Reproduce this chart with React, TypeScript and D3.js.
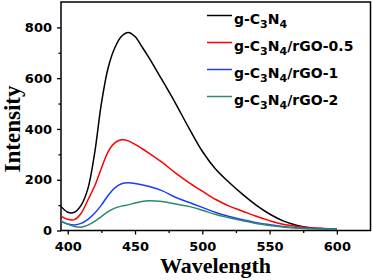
import React, { useRef, useEffect } from "react";
import * as d3 from "d3";

// wavelength (nm) and PL intensity of each sample
const wavelengths = [395, 400, 405, 410, 415, 420, 425, 430, 435, 440, 445, 450, 455, 460, 470, 480, 490, 500, 510, 520, 530, 540, 550, 560, 570, 580, 590, 600];
const gC3N4 = [95, 72, 72, 100, 165, 305, 500, 640, 720, 765, 780, 764, 725, 684, 594, 502, 404, 312, 241, 189, 142, 100, 65, 38, 21, 11, 7, 5];
const rGO05 = [57, 44, 43, 68, 120, 175, 245, 310, 345, 357, 353, 339, 323, 306, 269, 227, 189, 155, 122, 96, 76, 56, 39, 25, 17, 11, 8, 6];
const rGO1 = [35, 26, 22, 28, 44, 68, 100, 138, 168, 184, 188, 185, 180, 174, 157, 131, 111, 91, 71, 55, 42, 31, 23, 16, 11, 8, 6, 6];
const rGO2 = [38, 25, 16, 13, 21, 36, 55, 74, 88, 96, 101, 108, 114, 117, 114, 104, 95, 80, 63, 50, 38, 28, 20, 14, 10, 7, 6, 5];

const xTicks = [400, 450, 500, 550, 600];
const xMinor = [425, 475, 525, 575];
const yTicks = [0, 200, 400, 600, 800];
const yMinor = [100, 300, 500, 700];

const series = [
  { name: "g-C|3|N|4|", values: gC3N4, color: "#000000" },
  { name: "g-C|3|N|4|/rGO-0.5", values: rGO05, color: "#ff0000" },
  { name: "g-C|3|N|4|/rGO-1", values: rGO1, color: "#1f3dff" },
  { name: "g-C|3|N|4|/rGO-2", values: rGO2, color: "#2b8a6c" },
];

const App = () => {
  const svgRef = useRef<SVGSVGElement>(null);

  useEffect(() => {
    if (!svgRef.current) return;
    const svg = d3.select(svgRef.current);
    svg.selectAll("*").remove();

    const left = 61, right = 370.5, top = 2, bottom = 230.5;
    const x = d3.scaleLinear().domain([395, 625]).range([left, right]);
    const y = d3.scaleLinear().domain([0, 900]).range([bottom, top]);

    const tickFont = "'DejaVu Sans', sans-serif";

    // x axis
    const gx = svg.append("g").attr("transform", `translate(0,${bottom})`)
      .call(d3.axisBottom(x).tickValues(xTicks).tickSize(4).tickPadding(7).tickFormat(d3.format("d")));
    svg.append("g").attr("transform", `translate(0,${bottom})`)
      .call(d3.axisBottom(x).tickValues(xMinor).tickSize(2.5).tickFormat(() => ""));

    // y axis
    const gy = svg.append("g").attr("transform", `translate(${left},0)`)
      .call(d3.axisLeft(y).tickValues(yTicks).tickSize(4).tickPadding(5).tickFormat(d3.format("d")));
    svg.append("g").attr("transform", `translate(${left},0)`)
      .call(d3.axisLeft(y).tickValues(yMinor).tickSize(2.5).tickFormat(() => ""));

    svg.selectAll(".domain").remove();
    svg.selectAll(".tick line").attr("stroke", "#000").attr("stroke-width", 1.3);
    [gx, gy].forEach((g) =>
      g.selectAll("text")
        .attr("fill", "#000")
        .style("font-family", tickFont)
        .style("font-weight", "bold")
        .style("font-size", "13px")
    );

    // frame
    svg.append("rect")
      .attr("x", left).attr("y", top)
      .attr("width", right - left).attr("height", bottom - top)
      .attr("fill", "none").attr("stroke", "#000").attr("stroke-width", 1.5);

    // curves
    const line = d3.line<number>()
      .x((_, i) => x(wavelengths[i]))
      .y((d) => y(d))
      .curve(d3.curveCatmullRom.alpha(0.5));

    series.forEach((s) => {
      svg.append("path")
        .datum(s.values)
        .attr("d", line)
        .attr("fill", "none")
        .attr("stroke", s.color)
        .attr("stroke-width", 1.5);
    });

    // legend
    const legend = svg.append("g");
    series.forEach((s, i) => {
      const ly = 15.5 + i * 27;
      legend.append("line")
        .attr("x1", 207).attr("x2", 232)
        .attr("y1", ly).attr("y2", ly)
        .attr("stroke", s.color).attr("stroke-width", 1.5);
      const t = legend.append("text")
        .attr("x", 234).attr("y", ly + 8.5)
        .style("font-family", tickFont)
        .style("font-weight", "bold")
        .style("font-size", "14px");
      // parts split by "|": odd parts are subscripts
      s.name.split("|").forEach((part, j) => {
        if (!part) return;
        const sub = j % 2 === 1;
        t.append("tspan")
          .attr("dy", sub ? 4 : (j > 0 ? -4 : 0))
          .style("font-size", sub ? "11px" : "14px")
          .text(part);
      });
    });

    // axis titles
    svg.append("text")
      .attr("x", 215.5).attr("y", 273)
      .attr("text-anchor", "middle")
      .style("font-family", "'Liberation Serif', 'Times New Roman', serif")
      .style("font-weight", "bold")
      .style("font-size", "22px")
      .text("Wavelength");

    svg.append("text")
      .attr("transform", "translate(19.5,129) rotate(-90)")
      .attr("text-anchor", "middle")
      .style("font-family", "'Liberation Serif', 'Times New Roman', serif")
      .style("font-weight", "bold")
      .style("font-size", "23px")
      .text("Intensity");
  }, []);

  return (
    <svg
      ref={svgRef}
      width={373}
      height={280}
      style={{ position: "absolute", left: 0, top: 0, background: "#fff" }}
    />
  );
};

export default App;
